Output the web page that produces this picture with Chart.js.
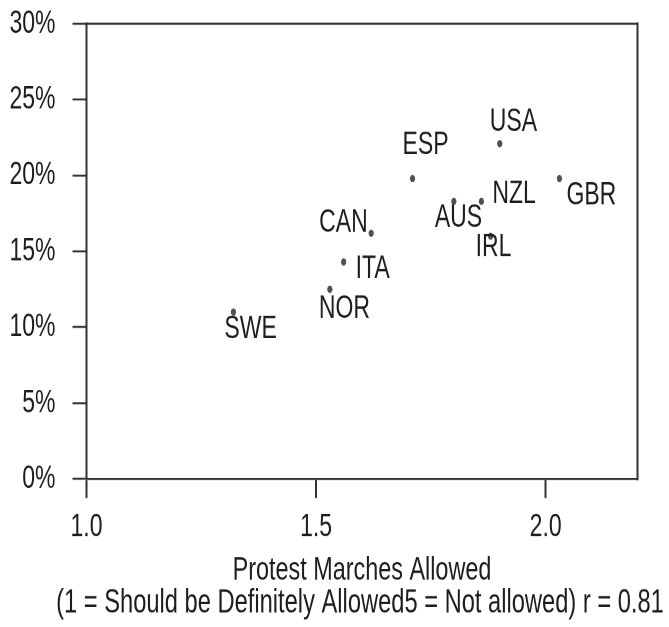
<!DOCTYPE html>
<html>
<head>
<meta charset="utf-8">
<title>Protest Marches Allowed</title>
<script src="https://cdn.jsdelivr.net/npm/chart.js@4/dist/chart.umd.min.js"></script>
<style>
  html, body { margin: 0; padding: 0; background: #ffffff; }
  #page { width: 669px; height: 627px; position: relative; overflow: hidden; }
  /* The figure uses tall, condensed lettering: the chart is laid out at a
     reduced height and stretched vertically by STRETCH. */
  #wrap { position: absolute; left: 0; top: 0; width: 669px; height: 448px; transform-origin: 0 0; }
  canvas { display: block; }
</style>
</head>
<body>
<div id="page"><div id="wrap"><canvas id="c" width="669" height="448"></canvas></div></div>
<script>
// Country codes and their values
const countries = ['SWE', 'NOR', 'ITA', 'CAN', 'ESP', 'AUS', 'NZL', 'IRL', 'USA', 'GBR'];
// Mean answer on protest marches (1 = definitely allowed ... 5 = not allowed)
const protestScores = [1.32, 1.53, 1.56, 1.62, 1.71, 1.80, 1.86, 1.88, 1.90, 2.03];
// Share of respondents, in percent
const shareValues = [11.0, 12.5, 14.3, 16.2, 19.8, 18.3, 18.3, 16.0, 22.1, 19.8];

const xTickValues = [1.0, 1.5, 2.0];
const xTickLabels = ['1.0', '1.5', '2.0'];
const yTickValues = [0, 5, 10, 15, 20, 25, 30];
const yTickLabels = ['0%', '5%', '10%', '15%', '20%', '25%', '30%'];

const xTitle = 'Protest Marches Allowed';
const xSubtitle = '(1 = Should be Definitely Allowed5 = Not allowed) r = 0.81';

// Layout and style settings
const STRETCH = 1.4;
const FONT = '"Liberation Sans", Arial, Helvetica, sans-serif';
const INK = '#1e1e1e';
const AXIS = '#333333';
const H_LINE = 2 / STRETCH;   // horizontal strokes get thickened by the stretch
const V_LINE = 2;
const TITLE_LINE = 23.2;      // spacing between the two axis-title lines

// Where each country's name sits relative to its dot: [dx, dy] in final pixels
const labelPlacement = {
  SWE: [-9, 17.5], NOR: [-11, 19.7], ITA: [12, 6.7], CAN: [-52, -10.5],
  ESP: [-10, -33.7], AUS: [-19, 16.7], NZL: [11, -7], IRL: [-15, 11.3],
  USA: [-10, -21.3], GBR: [7, 17.3]
};

document.getElementById('wrap').style.transform = 'scaleY(' + STRETCH + ')';

const points = protestScores.map((x, i) => ({ x: x, y: shareValues[i] }));

const pointLabels = {
  id: 'pointLabels',
  afterDatasetsDraw(chart) {
    const ctx = chart.ctx;
    const meta = chart.getDatasetMeta(0);
    ctx.save();
    ctx.font = '23px ' + FONT;
    ctx.fillStyle = INK;
    ctx.textAlign = 'left';
    ctx.textBaseline = 'middle';
    meta.data.forEach((el, i) => {
      const name = countries[i];
      const off = labelPlacement[name] || [6, 0];
      ctx.fillText(name, el.x + off[0], el.y + off[1] / STRETCH);
    });
    ctx.restore();
  }
};

// Top and right edges of the frame, plus the second line of the x-axis title
const frameBox = {
  id: 'frameBox',
  afterDraw(chart) {
    const { ctx, chartArea: a } = chart;
    const xs = chart.scales.x;
    ctx.save();
    ctx.strokeStyle = AXIS;
    ctx.lineCap = 'square';
    ctx.lineWidth = H_LINE;
    ctx.beginPath();
    ctx.moveTo(a.left, a.top);
    ctx.lineTo(a.right, a.top);
    ctx.stroke();
    ctx.lineWidth = V_LINE;
    ctx.beginPath();
    ctx.moveTo(a.right, a.top);
    ctx.lineTo(a.right, a.bottom);
    ctx.stroke();

    ctx.font = '23.7px ' + FONT;
    ctx.fillStyle = INK;
    ctx.textAlign = 'center';
    ctx.textBaseline = 'middle';
    ctx.fillText(xSubtitle, (a.left + a.right) / 2 - 2, xs.bottom - 5.5 - TITLE_LINE / 2);
    ctx.restore();
  }
};

new Chart(document.getElementById('c'), {
  type: 'scatter',
  data: {
    datasets: [{
      data: points,
      backgroundColor: '#505050',
      borderColor: '#505050',
      borderWidth: 0,
      pointRadius: 2.6,
      pointHoverRadius: 2.6
    }]
  },
  options: {
    responsive: false,
    animation: false,
    devicePixelRatio: 2,
    layout: { padding: { top: 17, right: 31.5, bottom: 0, left: 0 } },
    plugins: {
      legend: { display: false },
      tooltip: { enabled: false }
    },
    scales: {
      x: {
        type: 'linear',
        min: 1.0,
        max: 2.2,
        afterBuildTicks(scale) { scale.ticks = xTickValues.map(v => ({ value: v })); },
        afterFit(scale) { scale.height = 105.9; },
        ticks: {
          callback: (v, i) => xTickLabels[i],
          color: INK,
          font: { family: FONT, size: 23 },
          padding: 7.3,
          maxRotation: 0,
          autoSkip: false
        },
        grid: {
          display: true,
          drawOnChartArea: false,
          drawTicks: true,
          tickLength: 13.6,
          tickColor: AXIS,
          tickWidth: V_LINE
        },
        border: { display: true, color: AXIS, width: H_LINE },
        title: {
          display: true,
          text: xTitle,
          color: INK,
          font: { family: FONT, size: 23.4, lineHeight: TITLE_LINE / 23.4 },
          padding: { top: 5.5, bottom: 5.5 + TITLE_LINE }
        }
      },
      y: {
        type: 'linear',
        min: 0,
        max: 30,
        afterBuildTicks(scale) { scale.ticks = yTickValues.map(v => ({ value: v })); },
        afterFit(scale) {
          scale.width = 86.5;
          scale.paddingTop = 0;
          scale.paddingBottom = 0;
        },
        ticks: {
          callback: (v, i) => yTickLabels[i],
          color: INK,
          font: { family: FONT, size: 23 },
          padding: 17
        },
        grid: {
          display: true,
          drawOnChartArea: false,
          drawTicks: true,
          tickLength: 14,
          tickColor: AXIS,
          tickWidth: H_LINE
        },
        border: { display: true, color: AXIS, width: V_LINE }
      }
    }
  },
  plugins: [pointLabels, frameBox]
});
</script>
</body>
</html>
